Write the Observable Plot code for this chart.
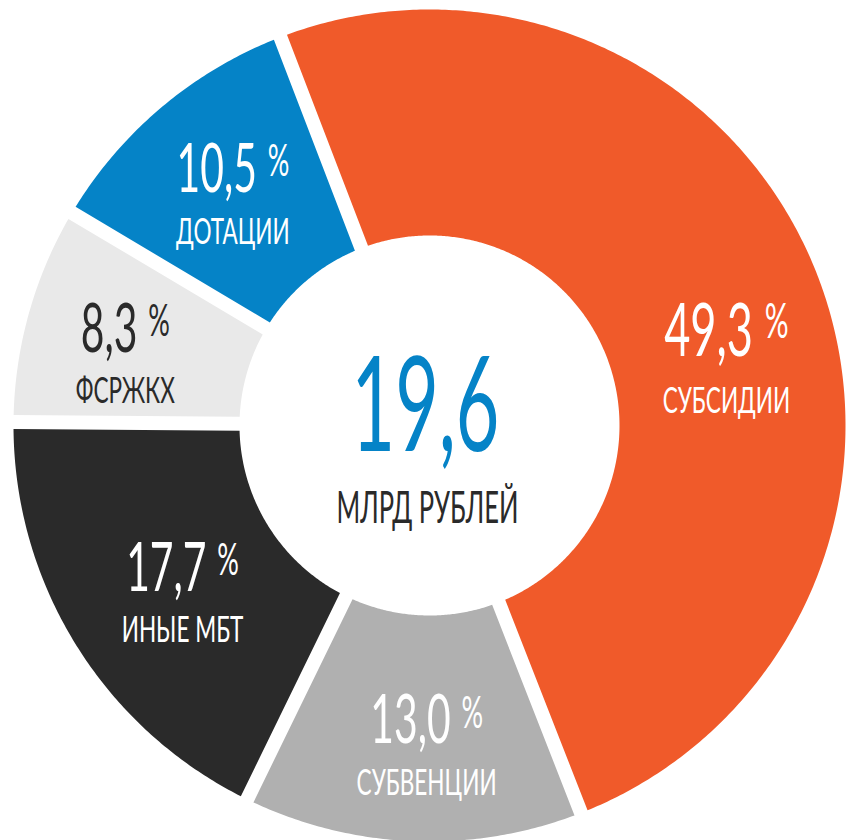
<!DOCTYPE html>
<html><head><meta charset="utf-8">
<script src="https://cdn.jsdelivr.net/npm/d3@7"></script>
<script src="https://cdn.jsdelivr.net/npm/@observablehq/plot@0.6"></script>
<style>body{margin:0;background:#fff} svg{display:block}</style>
</head><body><div id="chart"></div>
<script>
// ---- data ----
const categories = ["СУБСИДИИ", "СУБВЕНЦИИ", "ИНЫЕ МБТ", "ФСРЖКХ", "ДОТАЦИИ"];
const shares = [49.3, 13.0, 17.7, 8.3, 10.5];
const colors = ["#F05A2A", "#B0B0B0", "#2A2A2A", "#E9E9E9", "#0583C7"];
const labelColors = ["#ffffff", "#ffffff", "#ffffff", "#2A2A2A", "#ffffff"];
const totalValue = 19.6;
const totalUnit = "МЛРД РУБЛЕЙ";

// ---- layout ----
const W = 850, H = 840, cx = 429, cy = 425;
const R = 416, r = 190, halfGap = 7, startDeg = -21;
const toRad = Math.PI / 180;
const FONT = "Lato, Liberation Sans, sans-serif";
const fmt = v => d3.format(".1f")(v).replace(".", ",");

const rows = categories.map((name, i) => ({name, share: shares[i], color: colors[i], labelColor: labelColors[i]}));
const arcs = d3.pie().sort(null).value(d => d.share)
  .startAngle(startDeg * toRad).endAngle((startDeg + 360) * toRad)(rows);

// polygon outline of each ring segment (constant-width gaps)
const pts = [];
for (const a of arcs) {
  const po = Math.asin(halfGap / R), pi = Math.asin(halfGap / r);
  const span = a.endAngle - a.startAngle;
  const n = Math.ceil(span / (0.5 * toRad));
  for (let k = 0; k <= n; k++) {
    const t = a.startAngle + po + (span - 2 * po) * k / n;
    pts.push({name: a.data.name, x: R * Math.sin(t), y: -R * Math.cos(t)});
  }
  for (let k = n; k >= 0; k--) {
    const t = a.startAngle + pi + (span - 2 * pi) * k / n;
    pts.push({name: a.data.name, x: r * Math.sin(t), y: -r * Math.cos(t)});
  }
}

const labelR = 305;
const angleNudge = {"СУБСИДИИ": 8, "ФСРЖКХ": -2, "СУБВЕНЦИИ": -1.8, "ИНЫЕ МБТ": -2};
const radiusNudge = {"СУБВЕНЦИИ": 13, "ФСРЖКХ": 8, "ИНЫЕ МБТ": -8};
const labels = arcs.map(a => {
  const m = (a.startAngle + a.endAngle) / 2 + (angleNudge[a.data.name] || 0) * toRad;
  const rr = labelR + (radiusNudge[a.data.name] || 0);
  const fs = a.data.share > 40 ? 74 : 67;
  const x = rr * Math.sin(m), y = -rr * Math.cos(m);
  return {...a.data, x, y, fs, yName: y + 0.77 * fs, pct: fmt(a.data.share)};
});
const center = [{x: 0, y: 25, yName: 97, value: fmt(totalValue), unit: totalUnit}];

const chart = Plot.plot({
  width: W, height: H,
  marginTop: 0, marginRight: 0, marginBottom: 0, marginLeft: 0,
  x: {domain: [-cx, W - cx], range: [0, W], axis: null},
  y: {domain: [-cy, H - cy], range: [0, H], axis: null},
  color: {domain: categories, range: colors},
  style: {fontFamily: FONT, background: "#fff"},
  marks: [
    Plot.line(pts, {x: "x", y: "y", z: "name", fill: "name", stroke: "none", curve: "linear-closed"}),
    Plot.text(labels, {x: "x", y: "y", text: "pct", fill: "labelColor", fontSize: "fs", fontWeight: 400,
      lineAnchor: "bottom", textAnchor: "middle", fontFamily: FONT}),
    Plot.text(labels, {x: "x", y: "yName", text: "name", fill: "labelColor", fontSize: 37, fontWeight: 400,
      lineAnchor: "bottom", textAnchor: "middle", fontFamily: FONT}),
    Plot.text(center, {x: "x", y: "y", text: "value", fill: "#0583C7", fontSize: 132, fontWeight: 400, dx: -4,
      lineAnchor: "bottom", textAnchor: "middle", fontFamily: FONT}),
    Plot.text(center, {x: "x", y: "yName", text: "unit", fill: "#2A2A2A", fontSize: 44, fontWeight: 400, dx: -2,
      lineAnchor: "bottom", textAnchor: "middle", fontFamily: FONT})
  ]
});

// narrow the type (condensed look) and add the small raised "%" sign
const pctSet = new Set(labels.map(d => d.pct));
const nameSet = new Set(categories);
function squeeze(t, s) {
  const x = +t.getAttribute("x") || 0, y = +t.getAttribute("y") || 0;
  const tr = t.getAttribute("transform") || "";
  t.setAttribute("transform", `${tr} translate(${x},${y}) scale(${s},1) translate(${-x},${-y})`);
}
chart.querySelectorAll("text").forEach(t => {
  const s = t.textContent;
  if (pctSet.has(s)) {
    const ts = document.createElementNS("http://www.w3.org/2000/svg", "tspan");
    ts.textContent = "%";
    ts.setAttribute("font-size", "0.66em");
    ts.setAttribute("dx", "0.4em");
    ts.setAttribute("dy", "-0.36em");
    t.appendChild(ts);
    squeeze(t, 0.61);
  } else if (nameSet.has(s)) {
    squeeze(t, 0.61);
  } else if (s === center[0].value) {
    squeeze(t, 0.57);
  } else if (s === totalUnit) {
    squeeze(t, 0.58);
  }
});

document.getElementById("chart").appendChild(chart);
</script>
</body></html>
